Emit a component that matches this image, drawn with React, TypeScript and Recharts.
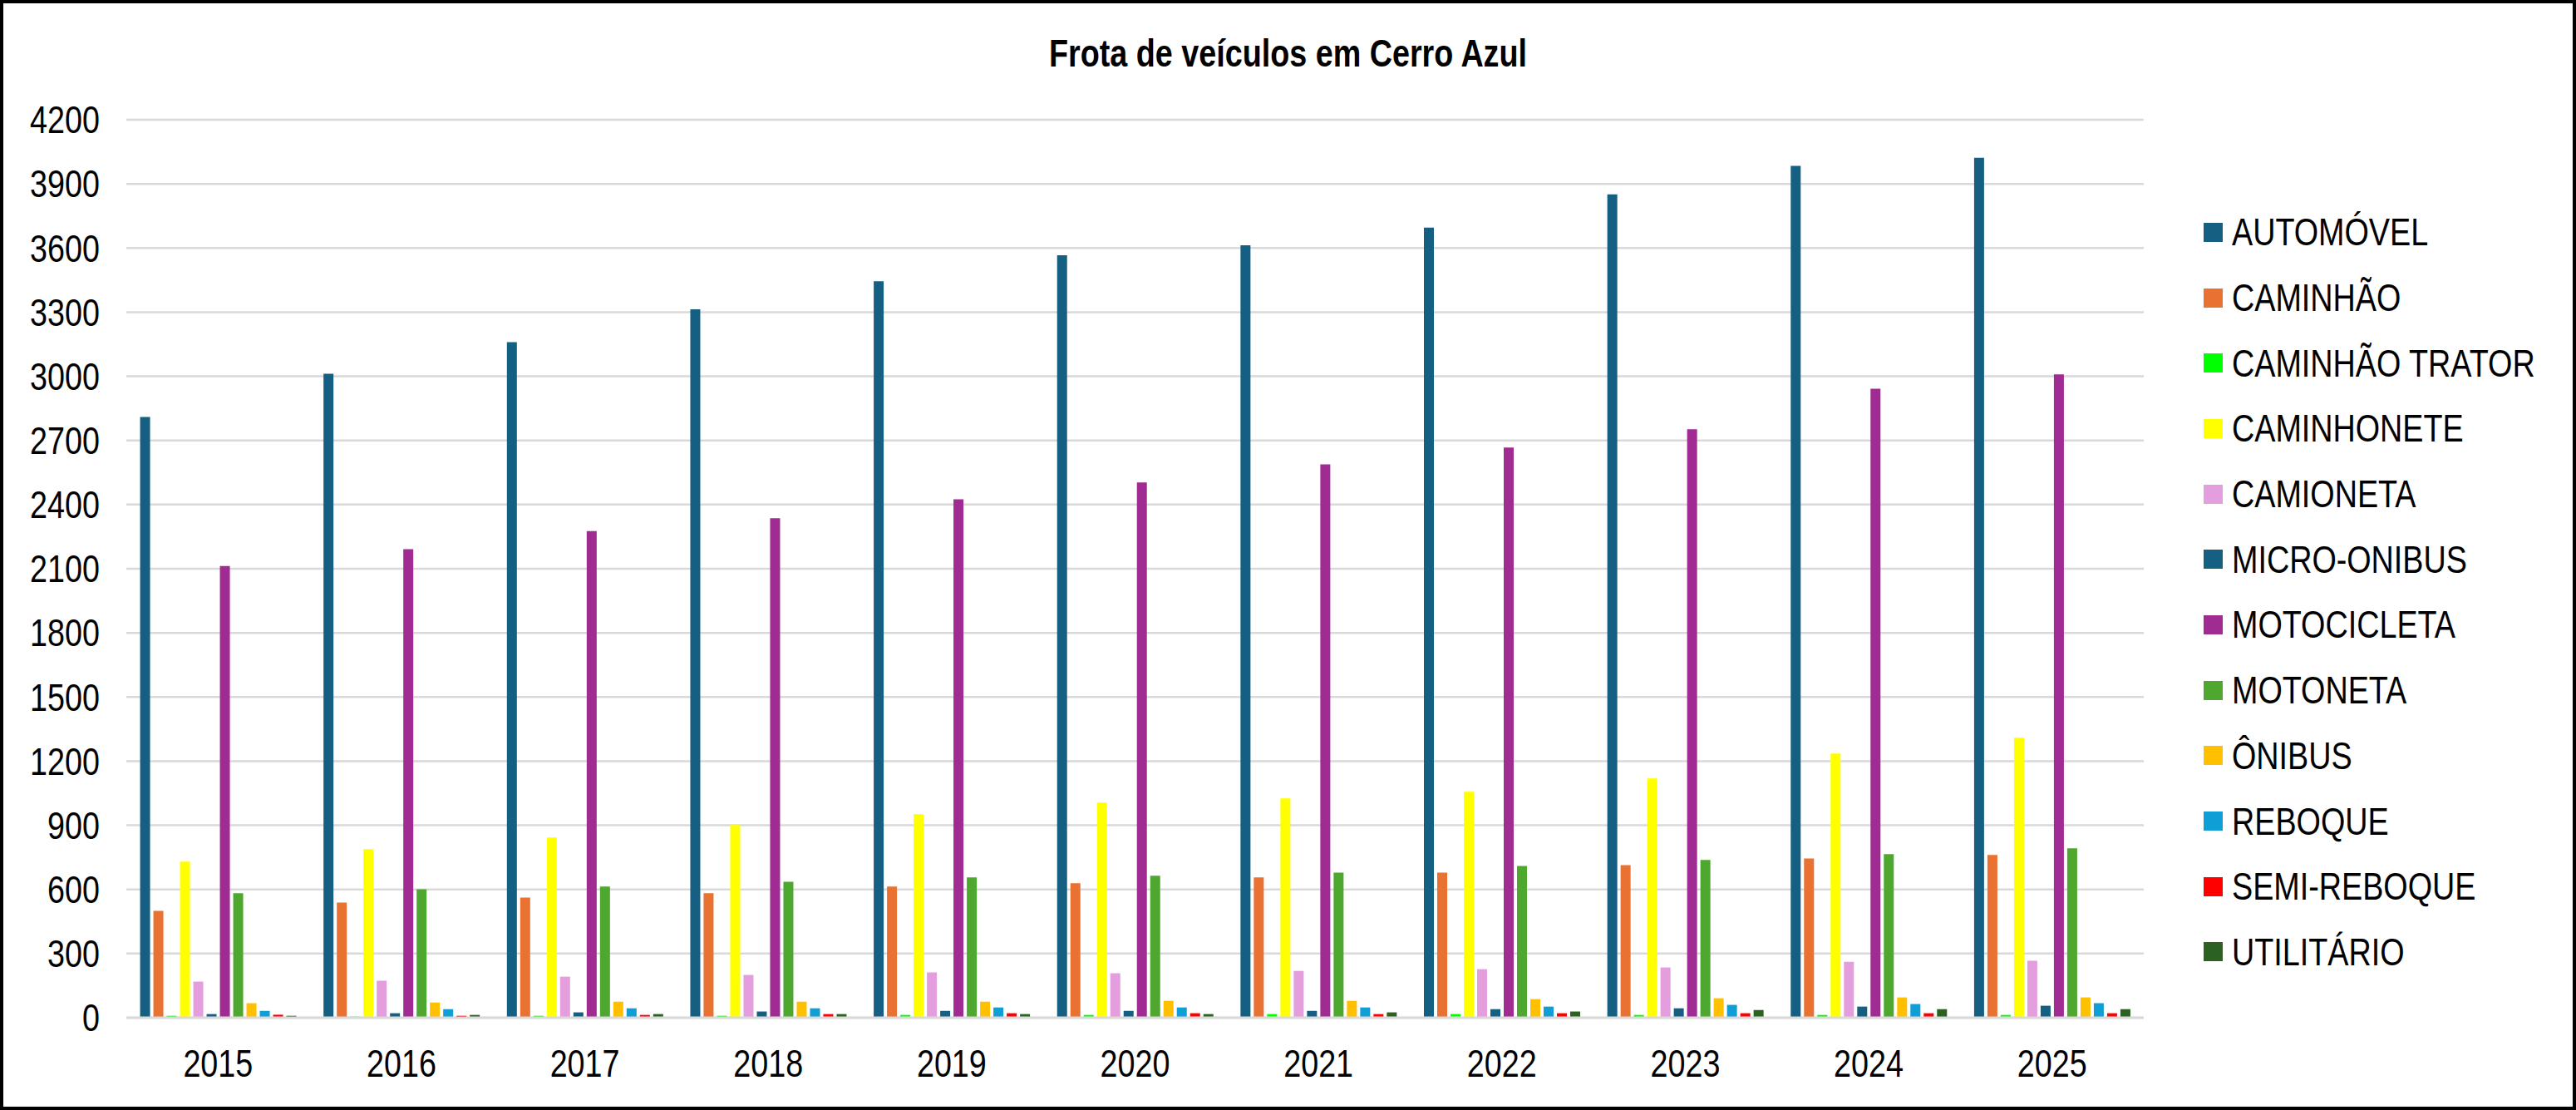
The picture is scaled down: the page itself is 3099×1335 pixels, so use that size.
import React from 'react';
import { BarChart, Bar, XAxis, YAxis, CartesianGrid, Legend } from 'recharts';

const years = ['2015', '2016', '2017', '2018', '2019', '2020', '2021', '2022', '2023', '2024', '2025'];

const automovel = [2810, 3012, 3160, 3313, 3445, 3566, 3613, 3695, 3851, 3984, 4022];
const caminhao = [500, 539, 562, 582, 613, 629, 656, 679, 714, 745, 761];
const caminhaoTrator = [9, 5, 9, 9, 13, 13, 17, 17, 13, 13, 13];
const caminhonete = [730, 788, 843, 901, 952, 1006, 1026, 1057, 1119, 1236, 1310];
const camioneta = [169, 173, 192, 200, 212, 208, 219, 227, 235, 262, 266];
const microOnibus = [17, 21, 25, 29, 32, 32, 32, 40, 44, 52, 56];
const motocicleta = [2113, 2191, 2276, 2336, 2425, 2503, 2588, 2667, 2752, 2942, 3009];
const motoneta = [582, 601, 613, 636, 656, 664, 679, 710, 738, 765, 792];
const onibus = [68, 71, 75, 75, 75, 79, 79, 87, 91, 95, 95];
const reboque = [32, 40, 44, 44, 48, 48, 48, 52, 60, 64, 68];
const semiReboque = [14, 9, 13, 17, 21, 21, 17, 21, 21, 21, 21];
const utilitario = [9, 13, 17, 17, 17, 17, 25, 29, 36, 40, 40];

const yTicks = [0, 300, 600, 900, 1200, 1500, 1800, 2100, 2400, 2700, 3000, 3300, 3600, 3900, 4200];

const seriesNames = [
  'AUTOMÓVEL',
  'CAMINHÃO',
  'CAMINHÃO TRATOR',
  'CAMINHONETE',
  'CAMIONETA',
  'MICRO-ONIBUS',
  'MOTOCICLETA',
  'MOTONETA',
  'ÔNIBUS',
  'REBOQUE',
  'SEMI-REBOQUE',
  'UTILITÁRIO',
];
const seriesValues = [
  automovel,
  caminhao,
  caminhaoTrator,
  caminhonete,
  camioneta,
  microOnibus,
  motocicleta,
  motoneta,
  onibus,
  reboque,
  semiReboque,
  utilitario,
];
const seriesColors = [
  '#156082',
  '#E97132',
  '#00FF00',
  '#FFFF00',
  '#E59EDD',
  '#156082',
  '#A02B93',
  '#4EA72E',
  '#FFC000',
  '#0F9ED5',
  '#FF0000',
  '#2B6121',
];

const data = years.map((year, i) => {
  const row: Record<string, string | number> = { year };
  seriesNames.forEach((name, s) => {
    row[name] = seriesValues[s][i];
  });
  return row;
});

const FONT = "'Liberation Sans', Arial, sans-serif";
const NARROW = 0.82;

const YTick = (props: any) => {
  const { x, y, payload } = props;
  return (
    <g transform={`translate(${x},${y})`}>
      <text
        transform={`scale(${NARROW},1)`}
        textAnchor="end"
        dy="0.355em"
        fill="#000"
        fontSize={46}
        fontFamily={FONT}
      >
        {payload.value}
      </text>
    </g>
  );
};

const XTick = (props: any) => {
  const { x, y, payload } = props;
  return (
    <g transform={`translate(${x},${y})`}>
      <text
        transform={`scale(${NARROW},1)`}
        textAnchor="middle"
        dy="0.71em"
        fill="#000"
        fontSize={46}
        fontFamily={FONT}
      >
        {payload.value}
      </text>
    </g>
  );
};

const renderLegend = (props: any) => {
  const payload: any[] = props.payload || [];
  const ordered = seriesNames
    .map((n) => payload.find((p) => p.value === n))
    .filter(Boolean);
  return (
    <div style={{ display: 'flex', flexDirection: 'column' }}>
      {ordered.map((entry: any) => (
        <div
          key={entry.value}
          style={{ height: 78.7, display: 'flex', alignItems: 'center' }}
        >
          <span
            style={{
              width: 23,
              height: 23,
              background: entry.color,
              marginRight: 11,
              flexShrink: 0,
              display: 'inline-block',
            }}
          />
          <span
            style={{
              display: 'inline-block',
              fontFamily: FONT,
              fontSize: 46,
              lineHeight: '46px',
              color: '#000',
              whiteSpace: 'nowrap',
              transform: `scaleX(${NARROW})`,
              transformOrigin: 'left center',
            }}
          >
            {entry.value}
          </span>
        </div>
      ))}
    </div>
  );
};

export default function App() {
  return (
    <div
      style={{
        position: 'absolute',
        left: 0,
        top: 0,
        width: 3099,
        height: 1335,
        border: '4px solid #000',
        boxSizing: 'border-box',
        background: '#fff',
        overflow: 'hidden',
      }}
    >
      <div
        style={{
          position: 'absolute',
          left: 0,
          top: 37,
          width: 3091,
          textAlign: 'center',
          fontFamily: FONT,
          fontWeight: 'bold',
          fontSize: 46,
          lineHeight: '46px',
          color: '#000',
          transform: `scaleX(${NARROW})`,
          transformOrigin: 'center center',
        }}
      >
        Frota de veículos em Cerro Azul
      </div>
      <BarChart
        width={3091}
        height={1327}
        data={data}
        margin={{ top: 140, right: 516, bottom: 47, left: 0 }}
        barCategoryGap="7.5%"
        barGap={4}
      >
        <CartesianGrid vertical={false} stroke="#d9d9d9" strokeWidth={2.5} />
        <XAxis
          dataKey="year"
          height={60}
          tickLine={false}
          tickSize={0}
          tickMargin={38}
          axisLine={{ stroke: '#d9d9d9', strokeWidth: 3 }}
          tick={<XTick />}
          interval={0}
        />
        <YAxis
          width={148}
          domain={[0, 4200]}
          ticks={yTicks}
          interval={0}
          tickLine={false}
          tickSize={0}
          tickMargin={32}
          axisLine={false}
          tick={<YTick />}
        />
        <Legend
          layout="vertical"
          align="center"
          verticalAlign="middle"
          content={renderLegend}
          wrapperStyle={{ left: 2647, top: 236, width: 440 }}
        />
        {seriesNames.map((name, s) => (
          <Bar
            key={name}
            dataKey={name}
            name={name}
            fill={seriesColors[s]}
            isAnimationActive={false}
          />
        ))}
      </BarChart>
    </div>
  );
}
